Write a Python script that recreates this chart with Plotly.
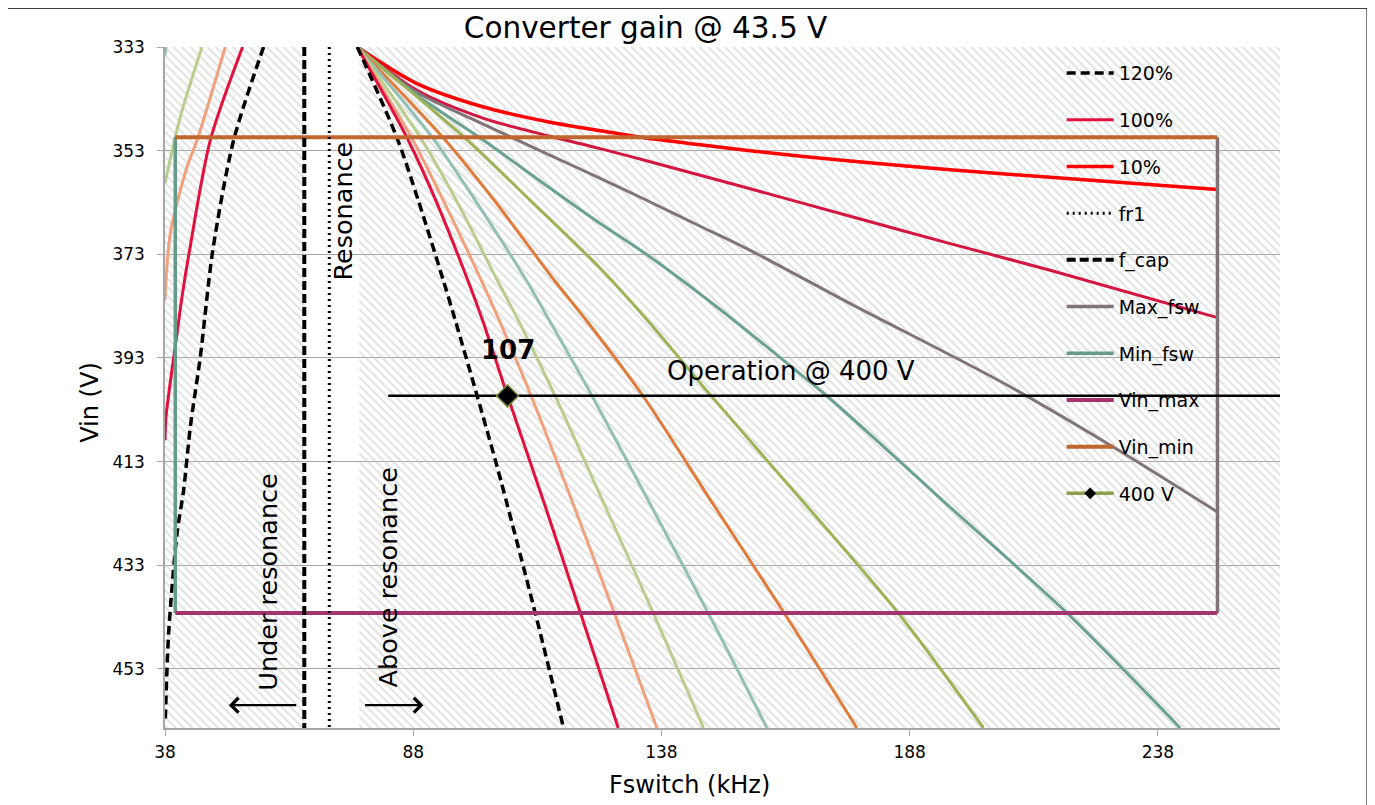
import plotly.graph_objects as go

# ---------------- axes ----------------
x_ticks = [38, 88, 138, 188, 238]
y_ticks = [333, 353, 373, 393, 413, 433, 453]
x_min, x_max = 38, 262.6
y_min, y_max = 333, 464.4

# hatched (gray striped) frequency bands
hatch_under = [38, 66.06]
hatch_above = [77.13, 262.6]

# ---------------- load curves (Vin vs Fswitch) ----------------
# 120 % load (black dashed): below-resonance and above-resonance branches
l120_lo_x = [57.86, 51.82, 47.63, 45.11, 43.10, 41.75, 40.42, 38.73, 38.06]
l120_lo_y = [333, 351.0, 372.22, 392.81, 406.32, 418.53, 426.88, 446.18, 462.9]
l120_hi_x = [76.73, 84.69, 89.02, 94.05, 96.47, 100.90, 104.93, 112.58, 118.28]
l120_hi_y = [333, 350.42, 362.58, 378.01, 385.73, 400.39, 414.09, 442.2, 464.39]

# 100 % load
l100_lo_x = [53.63, 47.12, 42.95, 41.42, 40.42, 38.2, 38.0]
l100_lo_y = [333, 351.0, 372.22, 381.23, 388.3, 404.39, 408.88]
l100_hi_x = [76.73, 86.70, 92.54, 98.99, 101.97, 107.0, 114.46, 121.69, 129.30]
l100_hi_y = [333, 350.42, 362.58, 378.01, 385.73, 400.3, 421.23, 442.2, 464.39]

# 90 % load
l90_lo_x = [50.14, 44.45, 42.43, 39.07, 38.0]
l90_lo_y = [333, 351.0, 356.15, 369.0, 381.87]
l90_hi_x = [76.73, 87.61, 94.05, 101.71, 105.33, 111.78, 120.24, 128.50, 137.09]
l90_hi_y = [333, 350.42, 362.58, 378.01, 385.73, 400.39, 421.23, 442.2, 464.39]

# 80 % load
l80_lo_x = [45.45, 41.08, 38.0]
l80_lo_y = [333, 346.5, 359.3]
l80_hi_x = [76.73, 89.42, 96.67, 104.93, 109.16, 116.61, 126.48, 136.35, 146.48]
l80_hi_y = [333, 350.42, 362.58, 378.01, 385.73, 400.39, 421.23, 442.2, 464.39]

# 70 % load
l70_lo_x = [38.2, 38.0]
l70_lo_y = [333, 334.6]
l70_hi_x = [76.73, 91.84, 100.50, 110.77, 115.40, 124.06, 135.74, 147.42, 159.25]
l70_hi_y = [333, 350.42, 362.58, 378.01, 385.73, 400.39, 421.23, 442.2, 464.39]

# 60 % load
l60_hi_x = [76.73, 93.95, 104.32, 116.41, 122.85, 134.33, 148.43, 162.73, 177.38]
l60_hi_y = [333, 350.42, 362.58, 378.01, 385.73, 400.39, 421.23, 442.2, 464.39]

# 50 % load
l50_hi_x = [76.73, 98.28, 111.57, 125.67, 135.74, 146.48, 159.25, 185.69, 202.87]
l50_hi_y = [333, 350.42, 362.58, 375.70, 386.37, 398.60, 412.74, 442.2, 464.39]

# 40 % load
l40_hi_x = [76.73, 88.76, 102.17, 115.60, 125.67, 135.74, 149.18, 162.59, 171.39,
            182.07, 195.50, 219.67, 242.49]
l40_hi_y = [333, 342.32, 351.0, 360.26, 367.07, 373.52, 383.16, 393.45, 400.39,
            409.52, 421.23, 442.2, 464.39]

# 30 % load
l30_hi_x = [76.73, 88.76, 102.17, 115.60, 125.67, 135.74, 145.81, 155.88, 176.03,
            206.24, 229.00, 250]
l30_hi_y = [333, 341.74, 347.91, 353.9, 358.33, 362.91, 367.59, 372.23, 382.51,
            397.5, 410.18, 422.72]

# 20 % load
l20_hi_x = [76.73, 88.76, 102.17, 115.60, 125.67, 135.74, 145.81, 155.88, 176.03,
            196.17, 216.31, 250]
l20_hi_y = [333, 341.35, 346.76, 350.23, 352.6, 355.15, 357.75, 360.36, 365.66,
            370.93, 376.08, 385.21]

# 10 % load
l10_hi_x = [76.73, 88.76, 102.17, 115.60, 125.67, 135.74, 145.81, 155.88, 176.03,
            196.17, 216.31, 250]
l10_hi_y = [333, 340.06, 344.58, 347.53, 349.17, 350.67, 351.87, 353.03, 355.01,
            356.69, 358.14, 360.51]

# ---------------- limits / markers ----------------
min_fsw = 40.07
max_fsw = 250.0
vin_min = 350.42
vin_max = 442.2
f_cap = 66.06
fr1 = 71.09
op_vin = 400.3
op_line_x = [82.97, 262.6]
op_fsw = [107]

FONT = "DejaVu Sans"

fig = go.Figure()

def hatch(x0, x1):
    fig.add_trace(go.Scatter(
        x=[x0, x1, x1, x0, x0], y=[y_min, y_min, y_max, y_max, y_min],
        mode="lines", line=dict(width=0), fill="toself",
        fillpattern=dict(shape="\\", size=6, solidity=0.32,
                         fgcolor="#c4c4c4", bgcolor="rgba(0,0,0,0)"),
        hoverinfo="skip", showlegend=False))

hatch(*hatch_under)
hatch(*hatch_above)

def join(ax, ay, bx, by):
    return ax + [None] + bx, ay + [None] + by

def curve(x, y, color, width=3, dash="solid", name=None, show=False, rank=None):
    fig.add_trace(go.Scatter(
        x=x, y=y, mode="lines", name=name, showlegend=show,
        legendgroup=name if name else None, legendrank=rank,
        line=dict(color=color, width=width, dash=dash, shape="spline", smoothing=0.8),
        connectgaps=False, hoverinfo="skip"))

C_RED = "#ff0000"
C_CRIM = "#e2103d"

curve(l10_hi_x, l10_hi_y, C_RED, width=3.5, name="10%", show=True, rank=3)
curve(l20_hi_x, l20_hi_y, "#d3153f")
curve(l30_hi_x, l30_hi_y, "#80737a")
curve(l40_hi_x, l40_hi_y, "#6aa192")
curve(l50_hi_x, l50_hi_y, "#9db357")
curve(l60_hi_x, l60_hi_y, "#e07b39")
x, y = join(l70_lo_x, l70_lo_y, l70_hi_x, l70_hi_y)
curve(x, y, "#92c0b4")
x, y = join(l80_lo_x, l80_lo_y, l80_hi_x, l80_hi_y)
curve(x, y, "#b9cd8d")
x, y = join(l90_lo_x, l90_lo_y, l90_hi_x, l90_hi_y)
curve(x, y, "#f2a07c")
x, y = join(l100_lo_x, l100_lo_y, l100_hi_x, l100_hi_y)
curve(x, y, C_CRIM, name="100%", show=True, rank=2)
x, y = join(l120_lo_x, l120_lo_y, l120_hi_x, l120_hi_y)
curve(x, y, "black", width=3.5, dash="9px,5px", name="120%", show=True, rank=1)

def straight(x, y, color, name, rank, width=3.5, dash="solid"):
    fig.add_trace(go.Scatter(
        x=x, y=y, mode="lines", name=name, legendgroup=name, legendrank=rank,
        line=dict(color=color, width=width, dash=dash), hoverinfo="skip"))

straight([max_fsw, max_fsw], [vin_min, vin_max], "#7f7378", "Max_fsw", 6)
straight([min_fsw, min_fsw], [vin_min, vin_max], "#65998a", "Min_fsw", 7)
straight([min_fsw, max_fsw], [vin_max, vin_max], "#a3346f", "Vin_max", 8, width=4)
straight([min_fsw, max_fsw], [vin_min, vin_min], "#c0672f", "Vin_min", 9, width=4)
straight([fr1, fr1], [y_min, y_max], "black", "fr1", 4, width=3, dash="2px,4px")
straight([f_cap, f_cap], [y_min, y_max], "black", "f_cap", 5, width=4, dash="9px,4px")

# operation line @ 400 V
fig.add_trace(go.Scatter(x=op_line_x, y=[op_vin, op_vin], mode="lines",
                         line=dict(color="black", width=2.5), showlegend=False,
                         hoverinfo="skip"))
fig.add_trace(go.Scatter(x=op_fsw, y=[op_vin], mode="markers", showlegend=False,
                         marker=dict(symbol="diamond", size=17, color="black",
                                     line=dict(color="#7d8f3f", width=1.5)),
                         hoverinfo="skip"))
# legend entry for the 400 V series
fig.add_trace(go.Scatter(x=[None], y=[None], mode="lines+markers", name="400 V",
                         legendgroup="400 V", legendrank=10,
                         line=dict(color="#8b9f4f", width=3.5),
                         marker=dict(symbol="diamond", size=9, color="black")))

ann = []
txt = dict(family=FONT, color="black", size=25.5)
ann.append(dict(x=73.91, y=364.7, text="Resonance", textangle=-90, showarrow=False,
                font=txt, xanchor="center", yanchor="middle"))
ann.append(dict(x=58.81, y=436.3, text="Under resonance", textangle=-90, showarrow=False,
                font=txt, xanchor="center", yanchor="middle"))
ann.append(dict(x=82.97, y=435.3, text="Above resonance", textangle=-90, showarrow=False,
                font=txt, xanchor="center", yanchor="middle"))
ann.append(dict(x=138.8, y=395.6, text="Operation @ 400 V", showarrow=False,
                font=dict(family=FONT, color="black", size=26), xanchor="left", yanchor="middle"))
ann.append(dict(x=op_fsw[0], y=391.5, text="<b>107</b>", showarrow=False,
                font=dict(family=FONT, color="black", size=26), xanchor="center", yanchor="middle"))
# arrows
ann.append(dict(x=50.86, y=460, ax=64.73, ay=460, axref="x", ayref="y", text="",
                showarrow=True, arrowhead=4, arrowsize=1.3, arrowwidth=2.2, arrowcolor="black"))
ann.append(dict(x=90.06, y=460, ax=78.0, ay=460, axref="x", ayref="y", text="",
                showarrow=True, arrowhead=4, arrowsize=1.3, arrowwidth=2.2, arrowcolor="black"))
# axis titles
ann.append(dict(xref="paper", yref="paper", x=-0.067, y=0.478, text="Vin (V)", textangle=-90,
                showarrow=False, font=dict(family=FONT, size=24, color="black"),
                xanchor="center", yanchor="middle"))
ann.append(dict(xref="paper", yref="paper", x=0.470, y=-0.084, text="Fswitch (kHz)",
                showarrow=False, font=dict(family=FONT, size=24, color="black"),
                xanchor="center", yanchor="middle"))

fig.update_layout(
    width=1375, height=805,
    margin=dict(l=157, r=103, t=39, b=85),
    paper_bgcolor="white", plot_bgcolor="white",
    font=dict(family=FONT, color="black"),
    title=dict(text="Converter gain @ 43.5 V", x=0.431, xref="paper", xanchor="center",
               y=0.975, yref="container", yanchor="middle",
               font=dict(family=FONT, size=29.5, color="black")),
    xaxis=dict(range=[x_min, x_max], tickvals=x_ticks, showgrid=False, zeroline=False,
               showline=True, linecolor="#a6a6a6", linewidth=1.5, ticks="outside",
               ticklen=6, tickcolor="#a6a6a6", ticklabelstandoff=2,
               tickfont=dict(size=17, family=FONT, color="black")),
    yaxis=dict(range=[y_max, y_min], tickvals=y_ticks, showgrid=True, gridcolor="#a6a6a6",
               gridwidth=1, zeroline=False, showline=True, linecolor="#a6a6a6", linewidth=1.5,
               ticks="outside", ticklen=6, tickcolor="#a6a6a6", ticklabelstandoff=9,
               tickfont=dict(size=17, family=FONT, color="black")),
    legend=dict(x=0.8042, y=0.9894, xanchor="left", yanchor="top", bgcolor="rgba(0,0,0,0)",
                font=dict(family=FONT, size=19, color="black"), tracegroupgap=19,
                itemwidth=47, traceorder="grouped"),
    annotations=ann,
    shapes=[dict(type="rect", xref="paper", yref="paper", x0=-0.1423, x1=1.0789,
                 y0=-0.118, y1=1.0583, line=dict(color="black", width=3), layer="above")],
    showlegend=True,
)

fig.write_html("out.html")
